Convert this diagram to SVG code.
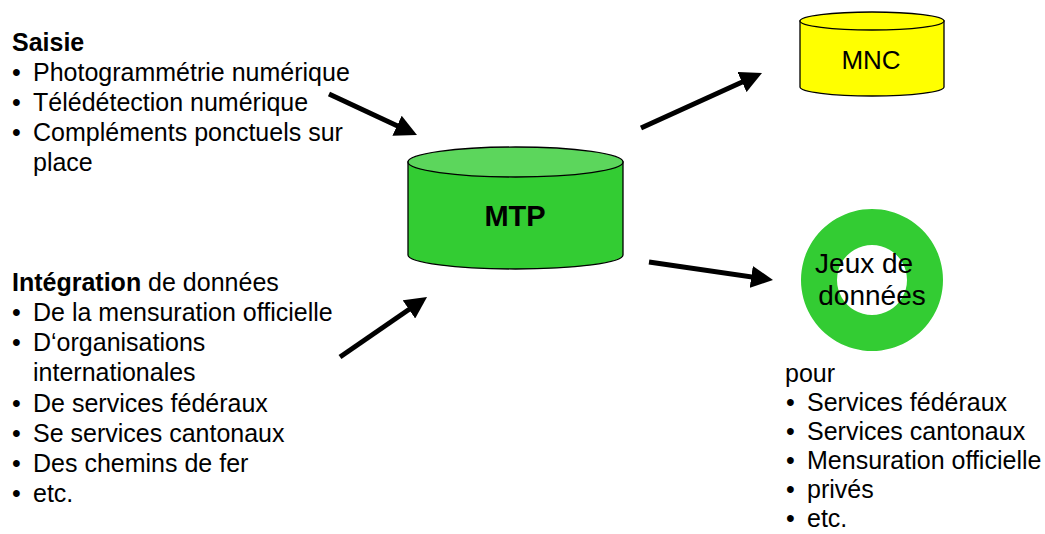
<svg xmlns="http://www.w3.org/2000/svg" width="1045" height="534" viewBox="0 0 1045 534">
  <style>
    text { font-family: "Liberation Sans", Arial, sans-serif; fill: #000; }
    .list { font-size: 25px; }
    .bold { font-weight: bold; }
    .conn { stroke: #000; stroke-width: 5; fill: none; marker-end: url(#arrow); }
    .outline { stroke: #000; stroke-width: 1.3; }
  </style>
  <defs>
    <marker id="arrow" viewBox="0 0 10 10" refX="7" refY="5" markerWidth="4.4" markerHeight="4.4" orient="auto" markerUnits="strokeWidth">
      <path d="M0,0 L10,5 L0,10 Z" fill="#000"/>
    </marker>
  </defs>
  <rect width="1045" height="534" fill="#fff"/>

  <!-- input sources: capture -->
  <g id="saisie">
    <text x="12" y="51" class="list bold">Saisie</text>
    <text class="list">
      <tspan x="12" y="81">•</tspan><tspan x="33" y="81">Photogrammétrie numérique</tspan>
      <tspan x="12" y="111">•</tspan><tspan x="33" y="111">Télédétection numérique</tspan>
      <tspan x="12" y="141">•</tspan><tspan x="33" y="141">Compléments ponctuels sur</tspan>
      <tspan x="33" y="171">place</tspan>
    </text>
  </g>

  <!-- input sources: integration -->
  <g id="integration">
    <text x="12" y="291" class="list"><tspan class="bold">Intégration</tspan> de données</text>
    <text class="list">
      <tspan x="12" y="321">•</tspan><tspan x="33" y="321">De la mensuration officielle</tspan>
      <tspan x="12" y="351">•</tspan><tspan x="33" y="351">D‘organisations</tspan>
      <tspan x="33" y="381">internationales</tspan>
      <tspan x="12" y="412">•</tspan><tspan x="33" y="412">De services fédéraux</tspan>
      <tspan x="12" y="442">•</tspan><tspan x="33" y="442">Se services cantonaux</tspan>
      <tspan x="12" y="472">•</tspan><tspan x="33" y="472">Des chemins de fer</tspan>
      <tspan x="12" y="502">•</tspan><tspan x="33" y="502">etc.</tspan>
    </text>
  </g>

  <!-- central topographic model database -->
  <g id="mtp">
    <path class="outline" d="M408,162 L408,255 A107.5,14 0 0 0 623,255 L623,162 Z" fill="#33CC33"/>
    <ellipse class="outline" cx="515.5" cy="162" rx="107.5" ry="15" fill="#5CD65C"/>
    <text x="515" y="226" font-size="29" font-weight="bold" text-anchor="middle">MTP</text>
  </g>

  <!-- surface model database -->
  <g id="mnc">
    <path class="outline" d="M800,21 L800,87 A72,9 0 0 0 944,87 L944,21 Z" fill="#FFFF00"/>
    <ellipse class="outline" cx="872" cy="21" rx="72" ry="9" fill="#FFFF00"/>
    <text x="871" y="69" font-size="26" text-anchor="middle">MNC</text>
  </g>

  <!-- derived datasets -->
  <g id="jeux">
    <path d="M872,209 A71,71 0 1 1 871.99,209 Z M872,245 A35,35 0 1 0 872.01,245 Z" fill="#33CC33" fill-rule="evenodd"/>
    <text font-size="28" text-anchor="middle">
      <tspan x="868" y="273">Jeux de</tspan>
      <tspan x="872" y="305">données</tspan>
    </text>
  </g>

  <!-- recipients -->
  <g id="pour">
    <text class="list">
      <tspan x="785" y="382">pour</tspan>
      <tspan x="786" y="411">•</tspan><tspan x="807" y="411">Services fédéraux</tspan>
      <tspan x="786" y="440">•</tspan><tspan x="807" y="440">Services cantonaux</tspan>
      <tspan x="786" y="469">•</tspan><tspan x="807" y="469">Mensuration officielle</tspan>
      <tspan x="786" y="498">•</tspan><tspan x="807" y="498">privés</tspan>
      <tspan x="786" y="527">•</tspan><tspan x="807" y="527">etc.</tspan>
    </text>
  </g>

  <!-- connectors -->
  <g id="connectors">
    <line class="conn" x1="329" y1="94" x2="411" y2="132.2"/>
    <line class="conn" x1="340" y1="357" x2="421.6" y2="300.7"/>
    <line class="conn" x1="641" y1="128" x2="756" y2="75.7"/>
    <line class="conn" x1="649" y1="262" x2="766.5" y2="279.1"/>
  </g>
</svg>
